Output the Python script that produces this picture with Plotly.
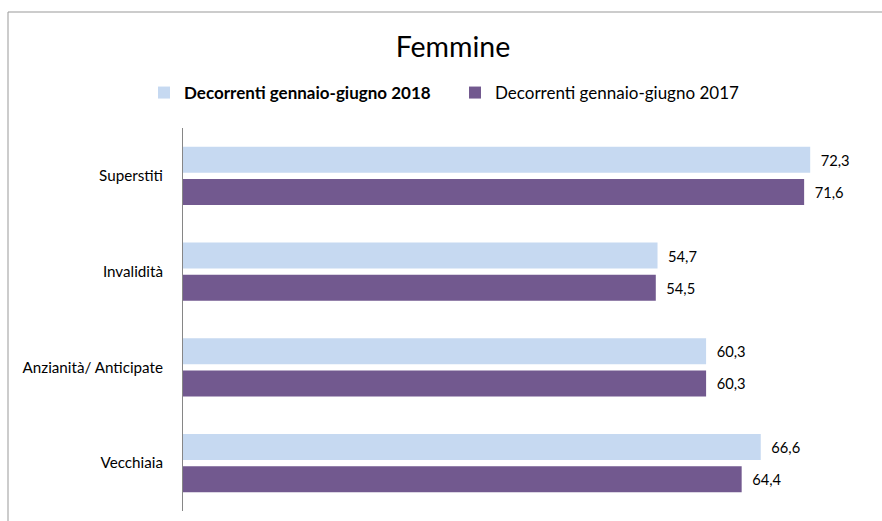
import plotly.graph_objects as go

# Categories (top to bottom) and values per period
categories = ["Superstiti", "Invalidità", "Anzianità/ Anticipate", "Vecchiaia"]
values_2018 = [72.3, 54.7, 60.3, 66.6]
values_2017 = [71.6, 54.5, 60.3, 64.4]
series_names = ["Decorrenti gennaio-giugno 2018", "Decorrenti gennaio-giugno 2017"]

FONT = "Lato"
LIGHT = "#C6D9F1"
DARK = "#72598F"
NBSP = "\u00a0"

fig = go.Figure()
fig.add_trace(go.Bar(
    y=categories, x=values_2018, orientation="h",
    name="<b>" + series_names[0] + "</b>",
    marker=dict(color=LIGHT, line=dict(width=0)),
    texttemplate=NBSP * 2 + "%{x:.1f}", textposition="outside",
    textfont=dict(family=FONT, size=14.7, color="#000"),
    cliponaxis=False,
))
fig.add_trace(go.Bar(
    y=categories, x=values_2017, orientation="h",
    name=series_names[1],
    marker=dict(color=DARK, line=dict(width=0)),
    texttemplate=NBSP * 2 + "%{x:.1f}", textposition="outside",
    textfont=dict(family=FONT, size=14.7, color="#000"),
    cliponaxis=False,
))

W, H = 882, 521
L, R, T, B = 183, 5, 128, 10
pw, ph = W - L - R, H - T - B

fig.update_layout(
    width=W, height=H,
    margin=dict(l=L, r=R, t=T, b=B, pad=0),
    paper_bgcolor="white", plot_bgcolor="white",
    separators=",.",
    barmode="group", bargap=0.33, bargroupgap=0.19,
    font=dict(family=FONT, size=14.7, color="#000"),
    title=dict(text="Femmine", x=453 / W, xref="container", xanchor="center",
               y=1 - 47 / H, yref="container", yanchor="middle",
               font=dict(family=FONT, size=28.5, color="#000")),
    legend=dict(orientation="h", xref="container", yref="container",
                x=144 / W, xanchor="left", y=1 - 93 / H, yanchor="middle",
                entrywidth=266, entrywidthmode="pixels",
                font=dict(family=FONT, size=17, color="#000"),
                traceorder="normal", itemclick=False),
    xaxis=dict(range=[0, 80], visible=False, showgrid=False, zeroline=False),
    yaxis=dict(autorange="reversed", showline=True, linecolor="#868686", linewidth=1,
               ticks="", ticklen=0, showgrid=False, ticklabelstandoff=16,
               tickfont=dict(family=FONT, size=15.2, color="#000")),
    shapes=[dict(type="rect", xref="paper", yref="paper",
                 x0=(8 - L) / pw, x1=(W + 20 - L) / pw,
                 y0=(H - B - (H + 20)) / ph, y1=(H - B - 12) / ph,
                 line=dict(color="#999999", width=1), fillcolor="rgba(0,0,0,0)",
                 layer="below")],
)

fig.write_html("out.html")
